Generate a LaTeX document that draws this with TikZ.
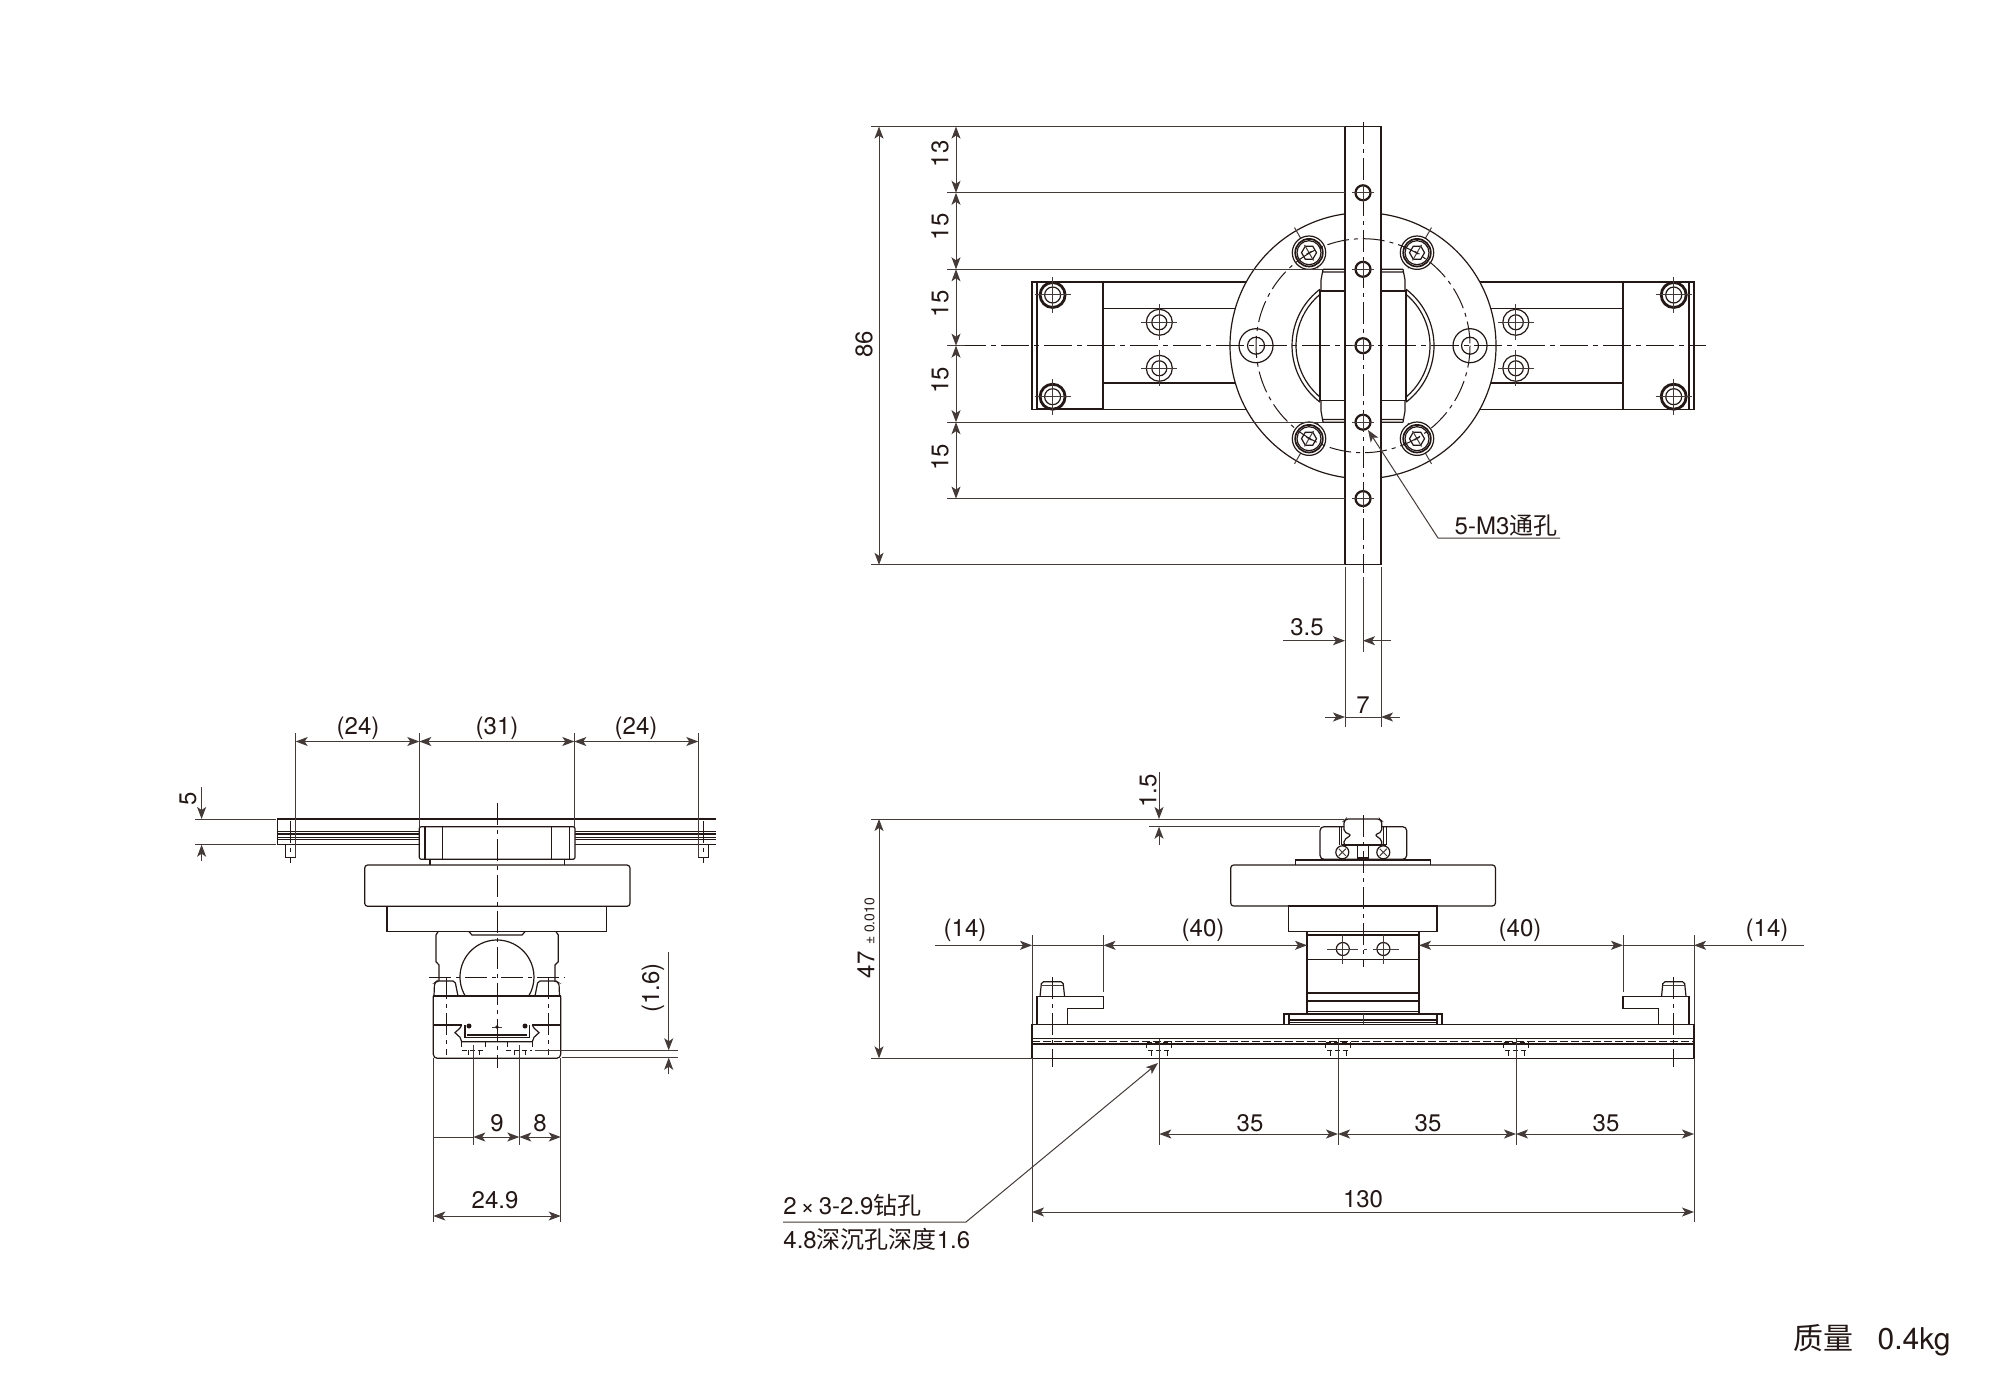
\documentclass[tikz,border=0pt]{standalone}
\usepackage{fontspec}
\setmainfont{TeX Gyre Heros}
\newfontfamily\cjk{Noto Sans CJK SC}
\usetikzlibrary{arrows.meta}
\definecolor{ink}{HTML}{231815}
\tikzset{
  x=0.5pt,y=-0.5pt,
  obj/.style={draw=ink,line width=0.6pt},
  objw/.style={draw=ink,fill=white,line width=0.6pt},
  thk/.style={draw=ink,line width=1.1pt},
  dimln/.style={draw=ink!85,line width=0.5pt},
  ctr/.style={draw=ink,line width=0.5pt,dash pattern=on 11pt off 2.5pt on 2pt off 2.5pt},
  ctrl/.style={draw=ink,line width=0.5pt,dash pattern=on 14pt off 2.5pt on 2.5pt off 2.5pt},
  dsh/.style={draw=ink,line width=0.5pt,dash pattern=on 2.5pt off 1.5pt},
  both/.style={{Stealth[length=6pt,width=4.5pt,inset=1.5pt]}-{Stealth[length=6pt,width=4.5pt,inset=1.5pt]}},
  tip/.style={-{Stealth[length=6pt,width=4.5pt,inset=1.5pt]}},
  lbl/.style={text=ink,font=\fontsize{12}{14}\selectfont,inner sep=0pt},
  rlbl/.style={lbl,rotate=90},
}
\newcommand{\capscrew}[3]{%
  \draw[dimln] (#1,#2)+(#3:-29)--+(#3:18);
  \draw[objw] (#1,#2) circle (16.7);
  \draw[draw=ink,line width=0.85pt] (#1,#2) circle (13.8);
  \draw[draw=ink,line width=0.6pt] (#1,#2) circle (12);
  \draw[obj] (#1,#2)+(#3:7.5)--+(#3+60:7.5)--+(#3+120:7.5)--+(#3+180:7.5)--+(#3+240:7.5)--+(#3+300:7.5)--cycle;
  \draw[dimln] (#1,#2)+(#3:-9)--+(#3:9) (#1,#2)+(#3+90:-3)--+(#3+90:3);
}
\newcommand{\blockbolt}[2]{%
  \draw[line width=1.4pt,draw=ink] (#1,#2) circle (12.5);
  \draw[obj] (#1,#2) circle (8);
  \draw[dimln] (#1-18,#2)--(#1+18,#2) (#1,#2-18)--(#1,#2+18);
}
\newcommand{\smallhole}[2]{%
  \draw[objw] (#1,#2) circle (13);
  \draw[obj] (#1,#2) circle (7.5);
  \draw[dimln] (#1-18,#2)--(#1+18,#2) (#1,#2-18)--(#1,#2+18);
}
\newcommand{\cbore}[1]{%
  \draw[dsh] (#1-12.5,1042.7)--(#1+12.5,1042.7) (#1-12.5,1042.7)--(#1-12.5,1048) (#1+12.5,1042.7)--(#1+12.5,1048)
    (#1-11,1050.7)--(#1+11,1050.7) (#1-8,1050.7)--(#1-8,1056) (#1+8,1050.7)--(#1+8,1056);
}
\begin{document}
\begin{tikzpicture}
\useasboundingbox (0,0) rectangle (2000,1390);
\fill[white] (0,0) rectangle (2000,1390);

% ============= TOP VIEW =============
\draw[obj] (1032,282) rectangle (1694,409.3);
\draw[obj] (1103,282)--(1103,409.3) (1623,282)--(1623,409.3);
\draw[obj] (1037,282)--(1037,409.3) (1689,282)--(1689,409.3);
\draw[obj] (1103,308.3)--(1623,308.3) (1103,383)--(1623,383);
\draw[obj,line width=0.9pt] (1037,409.3)--(1103,409.3);
\smallhole{1159.3}{322.3}\smallhole{1159.3}{368.3}
\smallhole{1515.8}{322.3}\smallhole{1515.8}{368.3}
\blockbolt{1052.6}{295}\blockbolt{1052.6}{396.7}\blockbolt{1673.7}{295}\blockbolt{1673.7}{396.7}
% flange
\draw[objw] (1363,345.7) circle (133);
% window
\draw[obj] (1363,345.7)+(127.3:71) arc (127.3:232.7:71);
\draw[obj] (1363,345.7)+(130:67) arc (130:230:67);
\draw[obj] (1363,345.7)+(-52.7:71) arc (-52.7:52.7:71);
\draw[obj] (1363,345.7)+(-50:67) arc (-50:50:67);
\draw[objw] (1320,291) rectangle (1406,400.7);
\draw[obj] (1323,269.3)--(1403,269.3) (1323,272)--(1403,272)
           (1323,422.2)--(1403,422.2) (1323,419.5)--(1403,419.5)
           (1323,269.3)--(1321,280)--(1321,291) (1403,269.3)--(1405,280)--(1405,291)
           (1323,422.2)--(1321,411)--(1321,400.7) (1403,422.2)--(1405,411)--(1405,400.7);
\capscrew{1309}{252.7}{60}
\capscrew{1417}{252.7}{120}
\capscrew{1309}{438.7}{-60}
\capscrew{1417}{438.7}{240}
\draw[objw] (1256,345.7) circle (17);
\draw[obj] (1256,345.7) circle (8.5);
\draw[objw] (1470,345.7) circle (17);
\draw[obj] (1470,345.7) circle (8.5);
% strip
\draw[objw] (1345,126.6) rectangle (1381,564.8);
\draw[dimln] (1345,567)--(1345,727) (1381,567)--(1381,727);
% PCD and centre lines
\draw[ctr] (1363,345.7) circle (107);
\draw[ctrl] (958,345.7)--(1706,345.7);
\draw[ctr] (1363,122)--(1363,573);
\draw[dimln] (1363,577)--(1363,651.7);
\foreach \yy [count=\ii] in {192.8,269.3,345.7,422.2,498.6}{
  \draw[thk,fill=white] (1363,\yy) coordinate (h\ii) circle (7.5);
  \draw[dimln] (1352,\yy)--(1374,\yy) (1363,\yy-9)--(1363,\yy+9);
}
% dims top view
\draw[dimln] (871,126.6)--(1345,126.6) (947,192.8)--(1345,192.8) (947,269.3)--(1323,269.3)
  (947,345.7)--(965,345.7) (947,422.2)--(1323,422.2) (947,498.6)--(1345,498.6) (871,564.8)--(1345,564.8);
\draw[dimln,both] (879,126.6)--(879,564.8);
\foreach \a/\b in {126.6/192.8,192.8/269.3,269.3/345.7,345.7/422.2,422.2/498.6}
  \draw[dimln,both] (956,\a)--(956,\b);
\node[rlbl] (t86) at (864,344) {86};
\node[rlbl] (t13) at (940,154) {13};
\node[rlbl] (t15a) at (940,227) {15};
\node[rlbl] (t15b) at (940,304) {15};
\node[rlbl] (t15c) at (940,380) {15};
\node[rlbl] (t15d) at (940,457) {15};
\coordinate (lk) at (1438,538);
\draw[dimln,tip] (1560,538)--(lk)--(1368,430);
\node[lbl] (tm3) at (1506,526) {5-M3{\cjk 通孔}};
\draw[dimln,tip] (1283,640.7)--(1345,640.7);
\draw[dimln,tip] (1391,640.7)--(1363,640.7);
\node[lbl] (t35) at (1307,627) {3.5};
\draw[dimln,tip] (1325,717)--(1345,717);
\draw[dimln,tip] (1400,717)--(1381,717);
\draw[dimln] (1345,717)--(1381,717);
\node[lbl] (t7) at (1363,705) {7};

% ============= FRONT VIEW (right) =============
\draw[obj,rounded corners=2pt] (1320,859.3)--(1320,826.7)--(1406.7,826.7)--(1406.7,859.3)--cycle;
\draw[obj] (1339.3,826.7)--(1339.3,845) (1341.7,826.7)--(1341.7,845) (1383.3,826.7)--(1383.3,845) (1386.7,826.7)--(1386.7,845);
\draw[objw,rounded corners=1pt] (1344,821)--(1346,819)--(1379.5,819)--(1381.7,821)--(1381.7,831.7)--(1375,835)--(1381.7,840)--(1381.7,845)--(1344,845)--(1344,840)--(1351,835)--(1344,831.7)--cycle;
\draw[obj] (1341.7,845)--(1386,845);
\draw[obj] (1357.7,845) rectangle (1368.3,858);
\foreach \cx in {1342.3,1383.3}{
  \draw[objw] (\cx,852.3) circle (6.5);
  \draw[dimln] (\cx-3.5,848.8)--(\cx+3.5,855.8) (\cx-3.5,855.8)--(\cx+3.5,848.8);
}
\draw[obj] (1295.7,865)--(1295.7,860)--(1430.7,860)--(1430.7,865);
\draw[obj,rounded corners=1.5pt] (1230.7,865) rectangle (1495.4,906);
\draw[obj] (1288.7,906) rectangle (1437,931.7);
\draw[obj] (1307,931.7)--(1307,1014) (1419,931.7)--(1419,1014);
\draw[obj] (1307,935)--(1419,935) (1307,959.3)--(1419,959.3) (1307,993)--(1419,993) (1307,1001)--(1419,1001) (1307,1011.7)--(1419,1011.7);
\draw[obj] (1284,1024.3) rectangle (1442,1014);
\draw[obj] (1289,1014)--(1289,1024.3) (1437,1014)--(1437,1024.3) (1289,1020)--(1437,1020) (1289,1022.5)--(1437,1022.5);
\draw[obj] (1032,1024.3) rectangle (1694,1058.3);
\draw[obj] (1032,1038.7)--(1694,1038.7) (1032,1044)--(1694,1044);
\draw[draw=ink,line width=0.5pt,dash pattern=on 4pt off 1.5pt] (1032,1041.5)--(1694,1041.5);
\draw[obj] (1037,1024.3)--(1037,996.7)--(1103.5,996.7)--(1103.5,1008.3)--(1067.8,1008.3)--(1067.8,1024.3);
\draw[obj] (1689,1024.3)--(1689,996.7)--(1623,996.7)--(1623,1008.3)--(1658.5,1008.3)--(1658.5,1024.3);
\draw[obj,rounded corners=1pt] (1040,996.7)--(1041.5,981.7)--(1063,981.7)--(1064.6,996.7);
\draw[obj,rounded corners=1pt] (1661.5,996.7)--(1663,981.7)--(1684.5,981.7)--(1686,996.7);
\draw[ctr] (1052,977)--(1052,1067);
\draw[ctr] (1673.6,977)--(1673.6,1067);
\draw[dimln] (1041.5,985)--(1063,985) (1663,985)--(1684.5,985);
\draw[obj] (1342.8,949) circle (6.5) (1383.4,949) circle (6.5);
\draw[dimln] (1327,949)--(1350,949) (1376,949)--(1398.6,949) (1342.8,935)--(1342.8,964) (1383.4,935)--(1383.4,964);
\draw[dimln,dash pattern=on 4pt off 3pt on 1.5pt off 3pt] (1350,949)--(1376,949);
\draw[ctr] (1363,815)--(1363,967);
\draw[dimln] (1363,1014)--(1363,1024);
\cbore{1159.3}\cbore{1338}\cbore{1516}
\draw[dimln] (871,819)--(1344,819) (1149,826.7)--(1320,826.7) (871,1058.3)--(1032,1058.3);
\draw[dimln,tip] (1159,772)--(1159,819);
\draw[dimln,tip] (1159,845)--(1159,826.7);
\node[rlbl] (t15e) at (1148,791) {1.5};
\draw[dimln,both] (879,819)--(879,1058.3);
\node[rlbl] (t47) at (866,938) {47 {\fontsize{7}{8}\selectfont ± 0.010}};
\draw[dimln] (1032,935)--(1032,1024) (1103.5,935)--(1103.5,992) (1623,935)--(1623,992) (1694,935)--(1694,1024);
\draw[dimln,tip] (935,945.3)--(1032,945.3);
\draw[dimln] (1032,945.3)--(1103.5,945.3);
\draw[dimln,both] (1103.5,945.3)--(1307,945.3);
\draw[dimln,both] (1419,945.3)--(1623,945.3);
\draw[dimln] (1623,945.3)--(1694,945.3);
\draw[dimln,tip] (1804,945.3)--(1694,945.3);
\node[lbl] (t14a) at (965,930) {(14)};
\node[lbl] (t40a) at (1203,930) {(40)};
\node[lbl] (t40b) at (1520,930) {(40)};
\node[lbl] (t14b) at (1767,930) {(14)};
\draw[dimln] (1159.3,1038.7)--(1159.3,1145) (1338,1038.7)--(1338,1145) (1516,1038.7)--(1516,1145)
  (1032,1058.3)--(1032,1222) (1694,1058.3)--(1694,1222);
\draw[dimln,both] (1159.3,1134)--(1338,1134);
\draw[dimln,both] (1338,1134)--(1516,1134);
\draw[dimln,both] (1516,1134)--(1694,1134);
\node[lbl] (t35a) at (1250,1123) {35};
\node[lbl] (t35b) at (1428,1123) {35};
\node[lbl] (t35c) at (1606,1123) {35};
\draw[dimln,both] (1032,1212)--(1694,1212);
\node[lbl] (t130) at (1363,1199) {130};
\coordinate (lk2) at (966,1222);
\draw[dimln,tip] (783,1222)--(lk2)--(1158,1063);
\node[lbl,anchor=west] (tdr) at (783,1205) {2{\,×\,}3-2.9{\cjk 钻孔}};
\node[lbl,anchor=west] (tcb) at (783,1239) {4.8{\cjk 深沉孔深度}1.6};

% ============= SIDE VIEW (left) =============
\draw[obj] (716,819)--(277.7,819)--(277.7,844.7)--(716,844.7);
\draw[obj] (277.7,831.7)--(716,831.7) (277.7,834)--(716,834) (277.7,837.3)--(716,837.3) (277.7,839.3)--(716,839.3);
\draw[objw] (285.3,844.7) rectangle (295.7,857.3);
\draw[objw] (698.3,844.7) rectangle (708.7,857.3);
\draw[ctr] (290.7,821)--(290.7,862.7);
\draw[ctr] (703.3,821)--(703.3,862.7);
\draw[objw,rounded corners=1pt] (419.3,826.7) rectangle (575,859.3);
\draw[obj] (425,826.7)--(425,859.3) (442.3,826.7)--(442.3,859.3) (551.7,826.7)--(551.7,859.3) (569.3,826.7)--(569.3,859.3);
\draw[obj] (430,865)--(430,859.3) (564.3,865)--(564.3,859.3);
\draw[obj,rounded corners=1.5pt] (364.7,865) rectangle (630,906.3);
\draw[obj] (387,906.3) rectangle (606.7,931.7);
\draw[obj] (469,931.7)--(472,935)--(522,935)--(525,931.7);
\draw[obj] (438,931.7)--(436,935)--(436,961.7)--(439,965)--(439,981);
\draw[obj] (556,931.7)--(558.3,935)--(558.3,961.7)--(555,965)--(555,981);
\draw[obj] (497,977)+(149:37) arc (149:391:37);
\draw[objw,rounded corners=1pt] (434,996)--(434.5,983)--(437,981)--(455,981)--(458,996);
\draw[objw,rounded corners=1pt] (535,996)--(538,981)--(556,981)--(559,983)--(559.5,996);
\draw[obj] (433.3,996)--(560.7,996) (433.3,1025)--(461.7,1025) (532.3,1025)--(560.7,1025);
\draw[obj,rounded corners=2pt] (433.3,996)--(433.3,1058.3)--(560.7,1058.3)--(560.7,996);
\draw[obj] (461.7,1025)--(460,1028)--(455,1032.7)--(460,1037.3)--(461.7,1041.7)--(532.3,1041.7)--(534,1037.3)--(539,1032.7)--(534,1028)--(532.3,1025);
\draw[obj] (465,1025)--(465,1037.3)--(529.3,1037.3)--(529.3,1025);
\draw[obj] (467,1035)--(527.3,1035);
\draw[obj] (485.7,1041.7)--(485.7,1047) (507.3,1041.7)--(507.3,1047) (461.7,1041.7)--(461.7,1047) (532.3,1041.7)--(532.3,1047);
\fill[ink] (469,1026) circle (2.5) (525,1026) circle (2.5);
\draw[dimln] (492,1027)--(502,1027);
\fill[ink] (497,1027) circle (1.8);
\draw[dsh] (462,1050)--(484,1050) (506,1050)--(532,1050) (468,1050)--(468,1056) (479,1050)--(479,1056) (514,1050)--(514,1056) (525,1050)--(525,1056);
\draw[ctr] (446,977)--(446,1055);
\draw[ctr] (548,977)--(548,1055);
\draw[ctr] (429,977)--(565,977);
\draw[ctr] (497,802.7)--(497,1068);
\draw[dimln] (295.7,733)--(295.7,857.3) (419.3,733)--(419.3,826.7) (574.3,733)--(574.3,826.7) (698.3,733)--(698.3,857.3);
\draw[dimln,both] (295.7,741.5)--(419.3,741.5);
\draw[dimln,both] (419.3,741.5)--(574.3,741.5);
\draw[dimln,both] (574.3,741.5)--(698.3,741.5);
\node[lbl] (t24a) at (358,728) {(24)};
\node[lbl] (t31) at (497,728) {(31)};
\node[lbl] (t24b) at (636,728) {(24)};
\draw[dimln] (195,819)--(275.7,819) (195,844.7)--(275.7,844.7);
\draw[dimln,tip] (201.6,787)--(201.6,819);
\draw[dimln,tip] (201.6,861)--(201.6,844.7);
\node[rlbl] (t5) at (188,799) {5};
\draw[dimln,tip] (668.7,952)--(668.7,1050.3);
\draw[dimln,tip] (668.7,1074)--(668.7,1057.7);
\draw[dimln] (535,1050.3)--(678,1050.3) (561.7,1057.7)--(678,1057.7);
\node[rlbl] (t16) at (653,988) {(1.6)};
\draw[dimln] (433.3,1058.3)--(433.3,1222) (560.7,1058.3)--(560.7,1222) (473.3,1045)--(473.3,1145) (519.3,1045)--(519.3,1145);
\draw[dimln,both] (473.3,1137)--(519.3,1137);
\draw[dimln,both] (519.3,1137)--(560.7,1137);
\draw[dimln] (433.3,1137)--(473.3,1137);
\node[lbl] (t9) at (497,1123) {9};
\node[lbl] (t8) at (540,1123) {8};
\draw[dimln,both] (433.3,1216)--(560.7,1216);
\node[lbl] (t249) at (495,1200) {24.9};
\node[lbl,anchor=east,font=\fontsize{15}{17}\selectfont] (tkg) at (1951,1340) {{\cjk 质量}\hspace{0.8em}0.4kg};
\end{tikzpicture}
\end{document}
